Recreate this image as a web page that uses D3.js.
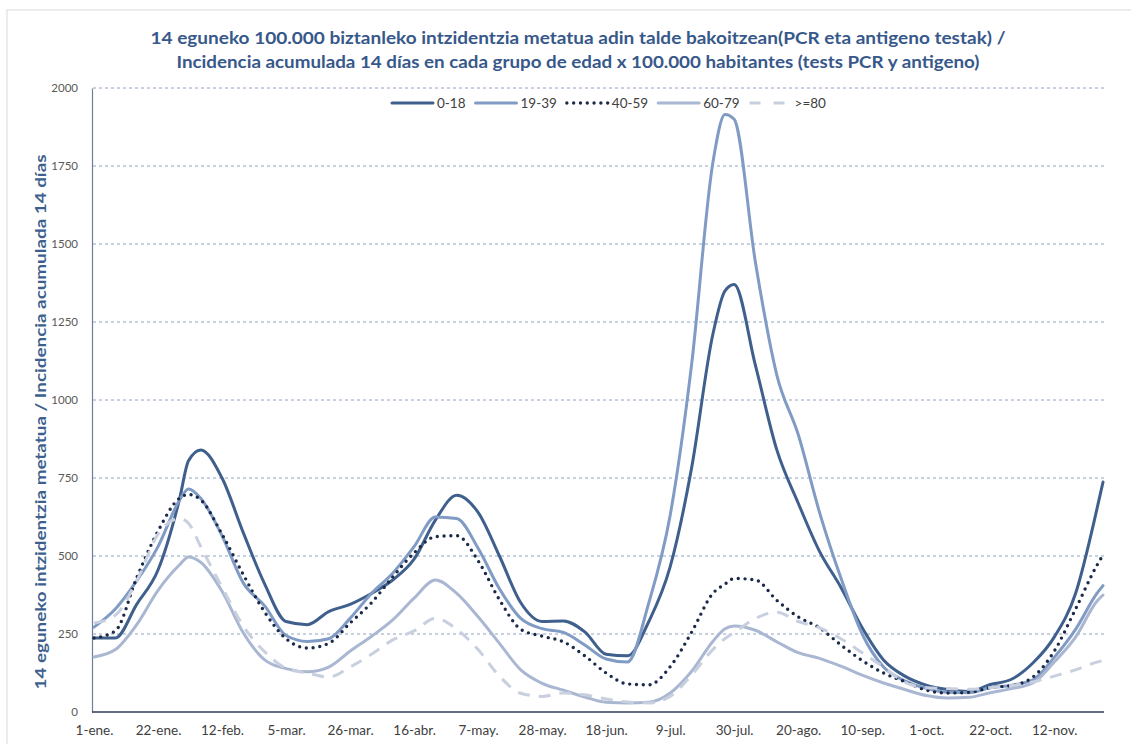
<!DOCTYPE html>
<html>
<head>
<meta charset="utf-8">
<script src="https://cdn.jsdelivr.net/npm/d3@7"></script>
<style>
  body { margin: 0; background: #fff; }
  svg { display: block; }
</style>
</head>
<body>
<svg id="grafico"></svg>
<script>
"use strict"
// dias desde el 1 de enero (2021)
const dias = [0, 7, 14, 21, 28, 31, 35, 42, 49, 56, 63, 70, 77, 84, 91, 98, 105, 112, 119, 126, 133, 140, 147, 154, 161, 168,
    175, 182, 189, 196, 203, 207, 210, 217, 224, 231, 238, 245, 252, 259, 266, 273, 280, 287, 294, 301, 308, 315, 322, 329, 331];

const grupos = ["0-18", "19-39", "40-59", "60-79", ">=80"];

const g0_18 = [237, 237, 345, 455, 680, 805, 840, 750, 574, 410, 290, 280, 322, 345, 380, 423, 490, 615, 695, 640, 500, 350, 290, 292, 257, 185,
    180, 290, 465, 780, 1210, 1350, 1370, 1110, 840, 670, 515, 400, 270, 167, 115, 86, 72, 66, 88, 105, 157, 240, 380, 650, 737];
const g19_39 = [272, 330, 420, 530, 678, 715, 685, 565, 413, 340, 245, 226, 235, 300, 380, 445, 530, 625, 620, 525, 395, 300, 267, 255, 215, 170,
    160, 350, 630, 1110, 1760, 1915, 1900, 1440, 1080, 890, 640, 430, 250, 144, 100, 76, 63, 62, 78, 86, 103, 175, 265, 380, 405];
const g40_59 = [237, 260, 430, 580, 685, 697, 680, 570, 440, 320, 235, 205, 220, 285, 350, 433, 510, 562, 565, 485, 360, 265, 243, 225, 180, 125,
    90, 87, 145, 255, 380, 410, 428, 423, 358, 305, 270, 215, 165, 125, 97, 70, 61, 63, 78, 85, 112, 195, 330, 470, 503];
const g60_79 = [176, 200, 280, 390, 471, 497, 480, 387, 253, 167, 139, 129, 144, 195, 242, 295, 365, 423, 380, 305, 220, 135, 92, 70, 48, 31,
    29, 31, 61, 130, 226, 267, 276, 262, 225, 190, 172, 147, 118, 93, 72, 53, 45, 47, 62, 75, 93, 160, 240, 355, 375];
const g80 = [285, 310, 420, 570, 620, 605, 530, 400, 275, 193, 140, 125, 112, 144, 185, 231, 260, 300, 265, 200, 115, 60, 50, 61, 55, 42,
    32, 29, 50, 118, 200, 235, 255, 300, 320, 290, 270, 235, 190, 144, 95, 78, 75, 73, 78, 85, 96, 115, 135, 160, 165];

const ticksX = [0, 21, 42, 63, 84, 105, 126, 147, 168, 189, 210, 231, 252, 273, 294, 315];
const etiquetasX = ["1-ene.", "22-ene.", "12-feb.", "5-mar.", "26-mar.", "16-abr.", "7-may.", "28-may.", "18-jun.",
    "9-jul.", "30-jul.", "20-ago.", "10-sep.", "1-oct.", "22-oct.", "12-nov."];
const ticksY = [0, 250, 500, 750, 1000, 1250, 1500, 1750, 2000];

const grafico = { w: 1131, h: 744 };
const area = { izq: 93, der: 1104, arriba: 88, abajo: 712 };
const fuente = "Lato, 'Open Sans', sans-serif";

const svg = d3.select("#grafico")
    .attr("width", grafico.w)
    .attr("height", grafico.h);

// marco del grafico
svg.append("rect")
    .attr("x", 7).attr("y", 10)
    .attr("width", 1200).attr("height", 800)
    .attr("fill", "none")
    .attr("stroke", "#d9d9d9");

const scalaX = d3.scaleLinear()
    .domain([0, 331])
    .range([94, 1103]);

const scalaY = d3.scaleLinear()
    .domain([0, 2000])
    .range([area.abajo, area.arriba]);

// lineas de la cuadricula
svg.append("g")
    .selectAll("line")
    .data(ticksY.filter(function (d) { return d > 0 }))
    .enter()
    .append("line")
    .attr("x1", area.izq)
    .attr("x2", area.der)
    .attr("y1", function (d) { return scalaY(d) })
    .attr("y2", function (d) { return scalaY(d) })
    .attr("stroke", "#8ea2c0")
    .attr("stroke-width", 1)
    .attr("stroke-dasharray", "3,3");

const asseY = d3.axisLeft(scalaY)
    .tickValues(ticksY)
    .tickFormat(d3.format("d"))
    .tickSize(0)
    .tickPadding(14);

svg.append("g")
    .attr("id", "asseY")
    .attr("transform", `translate(${area.izq - 1},0)`)
    .call(asseY)
    .call(function (g) {
        g.select(".domain").attr("stroke", "#6f7f98").attr("stroke-width", 1.2);
        g.selectAll("text")
            .attr("fill", "#595959")
            .attr("font-family", fuente)
            .attr("font-size", "11.5px");
    });

const asseX = d3.axisBottom(scalaX)
    .tickValues(ticksX)
    .tickFormat(function (d, i) { return etiquetasX[i] })
    .tickSize(0)
    .tickPadding(13);

svg.append("g")
    .attr("id", "asseX")
    .attr("transform", `translate(0,${area.abajo})`)
    .call(asseX)
    .call(function (g) {
        g.select(".domain").remove();
        g.selectAll("text")
            .attr("fill", "#404040")
            .attr("font-family", fuente)
            .attr("font-size", "13.5px");
    });

svg.append("line")
    .attr("x1", area.izq - 1).attr("x2", area.der)
    .attr("y1", area.abajo).attr("y2", area.abajo)
    .attr("stroke", "#2f3b57")
    .attr("stroke-width", 1.5);

// series
const series = [
    { nombre: grupos[0], valores: g0_18, color: "#3f5f8c", dash: null, cap: "round", ancho: 3 },
    { nombre: grupos[1], valores: g19_39, color: "#809bc4", dash: null, cap: "round", ancho: 3 },
    { nombre: grupos[2], valores: g40_59, color: "#1c2a4a", dash: "0,6.8", cap: "round", ancho: 3.4 },
    { nombre: grupos[3], valores: g60_79, color: "#aab7d2", dash: null, cap: "round", ancho: 3 },
    { nombre: grupos[4], valores: g80, color: "#c8cfde", dash: "12,9", cap: "butt", ancho: 3 }
];

const linea = d3.line()
    .x(function (d, i) { return scalaX(dias[i]) })
    .y(function (d) { return scalaY(d) })
    .curve(d3.curveMonotoneX);

svg.append("g")
    .selectAll("path")
    .data(series)
    .enter()
    .append("path")
    .attr("d", function (s) { return linea(s.valores) })
    .attr("fill", "none")
    .attr("stroke", function (s) { return s.color })
    .attr("stroke-width", function (s) { return s.ancho })
    .attr("stroke-linecap", function (s) { return s.cap })
    .attr("stroke-linejoin", "round")
    .attr("stroke-dasharray", function (s) { return s.dash });

// leyenda
const leyenda = svg.append("g").attr("id", "leyenda");
let posX = 392;
series.forEach(function (s) {
    leyenda.append("line")
        .attr("x1", posX).attr("x2", posX + 41)
        .attr("y1", 103).attr("y2", 103)
        .attr("stroke", s.color)
        .attr("stroke-width", s.ancho)
        .attr("stroke-linecap", s.cap)
        .attr("stroke-dasharray", s.dash === "12,9" ? "11,13" : s.dash);
    const t = leyenda.append("text")
        .attr("x", posX + 45)
        .attr("y", 107.5)
        .attr("fill", "#404040")
        .attr("font-family", fuente)
        .attr("font-size", "13.5px")
        .text(s.nombre);
    posX = posX + 45 + t.node().getComputedTextLength() + 10;
});

// titulos
const titulo = [
    "14 eguneko 100.000 biztanleko intzidentzia metatua adin talde bakoitzean(PCR eta antigeno testak) /",
    "Incidencia acumulada 14 días en cada grupo de edad x 100.000 habitantes (tests PCR y antigeno)"
];
const largos = [855, 803];
svg.append("g")
    .selectAll("text")
    .data(titulo)
    .enter()
    .append("text")
    .attr("x", 578)
    .attr("y", function (d, i) { return 44 + i * 24 })
    .attr("text-anchor", "middle")
    .attr("fill", "#37588a")
    .attr("font-family", fuente)
    .attr("font-weight", "bold")
    .attr("font-size", "17.5px")
    .attr("textLength", function (d, i) { return largos[i] })
    .attr("lengthAdjust", "spacingAndGlyphs")
    .text(function (d) { return d });

svg.append("text")
    .attr("transform", "translate(46,422) rotate(-90)")
    .attr("text-anchor", "middle")
    .attr("fill", "#3d5f8e")
    .attr("font-family", fuente)
    .attr("font-weight", "bold")
    .attr("font-size", "16px")
    .attr("textLength", 535)
    .attr("lengthAdjust", "spacingAndGlyphs")
    .text("14 eguneko intzidentzia metatua / Incidencia acumulada 14 días");
</script>
</body>
</html>
